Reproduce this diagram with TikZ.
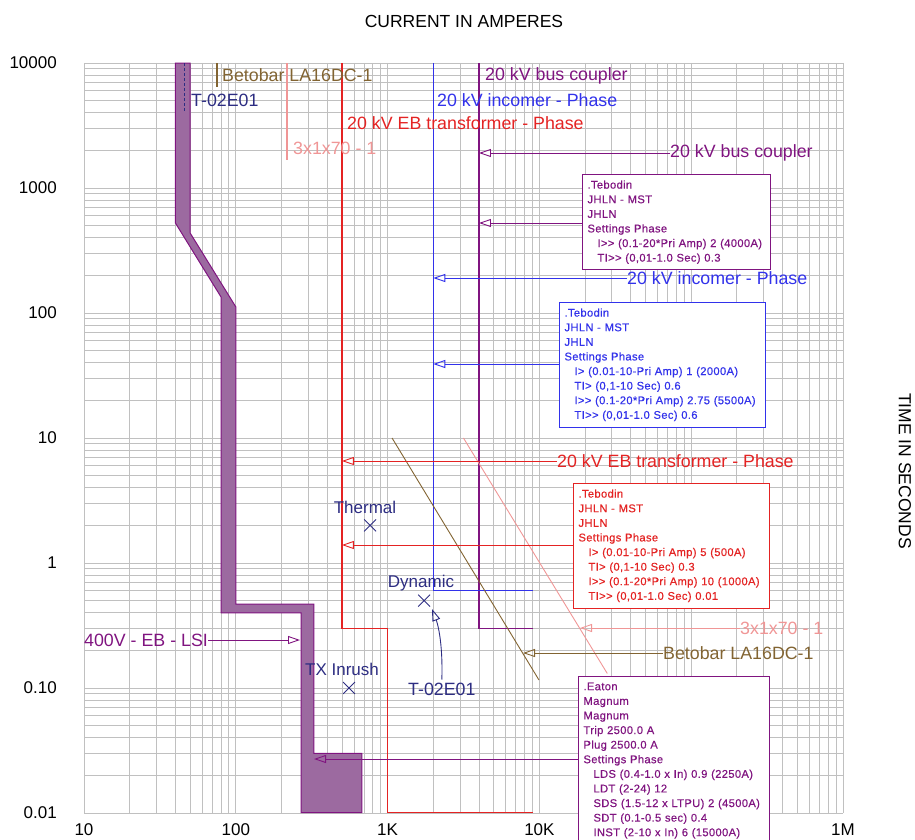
\documentclass[tikz,border=0pt]{standalone}
\usepackage{fontspec}
\setmainfont{Liberation Sans}
\newfontfamily\boxfont[LetterSpace=3,FakeBold=0.4]{Liberation Sans}
\usetikzlibrary{arrows.meta,shapes.misc}
\definecolor{gridgray}{RGB}{192,192,192}
\definecolor{bcpurple}{RGB}{128,20,128}
\definecolor{incblue}{RGB}{50,50,235}
\definecolor{ebred}{RGB}{228,35,35}
\definecolor{cablepink}{RGB}{240,150,150}
\definecolor{busbrown}{RGB}{130,100,50}
\definecolor{tfnavy}{RGB}{45,45,130}
\definecolor{bandfill}{RGB}{156,106,160}
\tikzset{
  gridln/.style={gridgray,line width=0.8pt},
  curve/.style={line width=1.5pt},
  lbl/.style={font=\fontsize{17.8}{20}\selectfont,inner sep=0pt,anchor=west},
  axl/.style={font=\fontsize{17}{20}\selectfont,inner sep=0pt},
  info/.style={draw=#1,text=#1,fill=white,line width=1pt,font=\boxfont\fontsize{11.2}{14.6}\selectfont,
    align=left,anchor=north west,inner xsep=5pt,inner ysep=6pt},
  pointer/.style={line width=0.9pt,-{Triangle[open,length=12pt,width=8pt]}},
  xmark/.style={cross out,draw=tfnavy,line width=0.9pt,minimum size=11pt,inner sep=0pt},
}
\begin{document}
\begin{tikzpicture}[x=1pt,y=-1pt,
  declare function={ix(\i)=84+151.8*(log10(\i)-1); ty(\t)=63+125*(4-log10(\t));}]
\useasboundingbox (0,0) rectangle (915,840);

\foreach \d in {1,...,5}
  \foreach \k in {1,...,9}
    \draw[gridln] ({84+151.8*(\d-1+log10(\k))},63) -- ++(0,750);
\draw[gridln] (843,63) -- (843,813);
\foreach \d in {-2,...,3}
  \foreach \k in {1,...,9}
    \draw[gridln] (84,{63+125*(4-\d-log10(\k))}) -- (843,{63+125*(4-\d-log10(\k))});
\draw[gridln] (84,63) -- (843,63);

\node[font=\fontsize{17.5}{20}\selectfont] (xtitle) at (464,21) {CURRENT IN AMPERES};
\node[font=\fontsize{17.5}{20}\selectfont,rotate=-90] (ytitle) at (905,471) {TIME IN SECONDS};
\foreach \v/\txt in {10000/10000,1000/1000,100/100,10/10,1/1,0.1/0.10,0.01/0.01}
  \node[axl,anchor=east] (yl\txt) at (57,{ty(\v)}) {\txt};
\foreach \e/\txt in {1/10,2/100,3/1K,4/10K,6/1M}
  \node[axl] (xl\txt) at ({84+151.8*(\e-1)},830) {\txt};

\draw[bcpurple,line width=1pt,fill=bandfill] ({ix(40)},{ty(10000)}) -- ({ix(40)},{ty(525)})
  -- ({ix(80)},{ty(134)}) -- ({ix(80)},{ty(0.4)}) -- ({ix(269)},{ty(0.4)})
  -- ({ix(269)},{ty(0.01)}) -- ({ix(678)},{ty(0.01)}) -- ({ix(678)},{ty(0.03)})
  -- ({ix(327)},{ty(0.03)}) -- ({ix(327)},{ty(0.47)}) -- ({ix(100)},{ty(0.47)})
  -- ({ix(100)},{ty(112)}) -- ({ix(50)},{ty(437)}) -- ({ix(50)},{ty(10000)}) -- cycle;
\draw[tfnavy,line width=1pt,dash pattern=on 3pt off 2pt] ({ix(46)},{ty(10000)}) -- ({ix(46)},{ty(4000)});

\draw[curve,bcpurple] ({ix(4000)},{ty(10000)}) -- ({ix(4000)},{ty(0.3)}) -- ({ix(9100)},{ty(0.3)});
\draw[curve,incblue] ({ix(2000)},{ty(10000)}) -- ({ix(2000)},{ty(0.6)}) -- ({ix(9100)},{ty(0.6)});
\draw[curve,ebred] ({ix(500)},{ty(10000)}) -- ({ix(500)},{ty(0.3)}) -- ({ix(1000)},{ty(0.3)})
  -- ({ix(1000)},{ty(0.01)}) -- ({ix(9100)},{ty(0.01)});
\draw[curve,busbrown] ({ix(75)},{ty(10000)}) -- ({ix(75)},{ty(6400)});
\draw[busbrown,line width=0.9pt] ({ix(1070)},{ty(10)}) -- ({ix(9930)},{ty(0.116)});
\draw[curve,cablepink] ({ix(217)},{ty(10000)}) -- ({ix(217)},{ty(1675)});
\draw[cablepink,line width=0.9pt] ({ix(3160)},{ty(10)}) -- ({ix(2800)+151.8},{ty(0.1275)});

\node[lbl,busbrown] (betoTop) at (222,75) {Betobar LA16DC-1};
\node[lbl,tfnavy] (tfTop) at (191,100) {T-02E01};
\node[lbl,bcpurple] (bcTop) at (485,76) {20 kV bus coupler};
\node[lbl,incblue] (incTop) at (437,100) {20 kV incomer - Phase};
\node[lbl,ebred] (ebTop) at (347,123) {20 kV EB transformer - Phase};
\node[lbl,cablepink] (cabTop) at (293,148) {3x1x70 - 1};

\node[info=bcpurple,text width=178pt] (bcBox) at (582,174) {.Tebodin\\JHLN - MST\\JHLN\\Settings Phase\\
  \hspace*{10pt}I>{}> (0.1-20*Pri Amp) 2 (4000A)\\\hspace*{10pt}TI>{}> (0,01-1.0 Sec) 0.3};
\node[info=incblue,text width=196pt] (incBox) at (559,302) {.Tebodin\\JHLN - MST\\JHLN\\Settings Phase\\
  \hspace*{10pt}I> (0.01-10-Pri Amp) 1 (2000A)\\\hspace*{10pt}TI> (0,1-10 Sec) 0.6\\
  \hspace*{10pt}I>{}> (0.1-20*Pri Amp) 2.75 (5500A)\\\hspace*{10pt}TI>{}> (0,01-1.0 Sec) 0.6};
\node[info=ebred,text width=186pt] (ebBox) at (573,483) {.Tebodin\\JHLN - MST\\JHLN\\Settings Phase\\
  \hspace*{10pt}I> (0.01-10-Pri Amp) 5 (500A)\\\hspace*{10pt}TI> (0,1-10 Sec) 0.3\\
  \hspace*{10pt}I>{}> (0.1-20*Pri Amp) 10 (1000A)\\\hspace*{10pt}TI>{}> (0,01-1.0 Sec) 0.01};
\node[info=bcpurple,text width=181pt] (eatonBox) at (578,676) {.Eaton\\Magnum\\Magnum\\Trip 2500.0 A\\Plug 2500.0 A\\Settings Phase\\
  \hspace*{10pt}LDS (0.4-1.0 x In) 0.9 (2250A)\\\hspace*{10pt}LDT (2-24) 12\\
  \hspace*{10pt}SDS (1.5-12 x LTPU) 2 (4500A)\\\hspace*{10pt}SDT (0.1-0.5 sec) 0.4\\
  \hspace*{10pt}INST (2-10 x In) 6 (15000A)};

\node[lbl,bcpurple] (bcLbl) at (670,153) {20 kV bus coupler};
\node[lbl,incblue] (incLbl) at (627,278) {20 kV incomer - Phase};
\node[lbl,ebred] (ebLbl) at (557,461) {20 kV EB transformer - Phase};
\node[lbl,cablepink] (cabLbl) at (740,628) {3x1x70 - 1};
\node[lbl,busbrown] (betoLbl) at (663,653) {Betobar LA16DC-1};
\node[lbl,bcpurple] (lsiLbl) at (84,640) {400V - EB - LSI};

\coordinate (bcTipA) at ({ix(4000)},153);
\coordinate (bcTipB) at ({ix(4000)},223);
\coordinate (incTipA) at ({ix(2000)},278);
\coordinate (incTipB) at ({ix(2000)},364);
\coordinate (ebTipA) at ({ix(500)},461);
\coordinate (ebTipB) at ({ix(500)},545);
\coordinate (cabTip) at (580,628);
\coordinate (betoTip) at (523,653);
\coordinate (lsiTip) at (300,640);
\coordinate (eatonTip) at (314,759);
\coordinate (dynTip) at (432,609);

\draw[pointer,bcpurple] (bcLbl) -- (bcTipA);
\draw[pointer,bcpurple] (bcTipB -| bcBox.west) -- (bcTipB);
\draw[pointer,incblue] (incLbl) -- (incTipA);
\draw[pointer,incblue] (incTipB -| incBox.west) -- (incTipB);
\draw[pointer,ebred] (ebLbl) -- (ebTipA);
\draw[pointer,ebred] (ebTipB -| ebBox.west) -- (ebTipB);
\draw[pointer,cablepink] (cabLbl) -- (cabTip);
\draw[pointer,busbrown] (betoLbl) -- (betoTip);
\draw[pointer,bcpurple] (lsiLbl) -- (lsiTip);
\draw[pointer,bcpurple] (eatonTip -| eatonBox.west) -- (eatonTip);

\node[xmark] (thermalX) at ({ix(766)},{ty(2)}) {};
\node[xmark] (dynX) at ({ix(1740)},{ty(0.5)}) {};
\node[xmark] (inrushX) at ({ix(557)},{ty(0.1)}) {};
\node[axl,tfnavy] (thermalLbl) at (365,507) {Thermal};
\node[axl,tfnavy] (dynLbl) at (421,583) {Dynamic};
\node[axl,tfnavy] (inrushLbl) at (342,669) {TX Inrush};
\node[lbl,tfnavy] (tfLbl) at (408,689) {T-02E01};
\draw[pointer,tfnavy] ([yshift=3pt]tfLbl.north) .. controls (443,640) and (437,622) .. (dynTip);
\end{tikzpicture}
\end{document}
